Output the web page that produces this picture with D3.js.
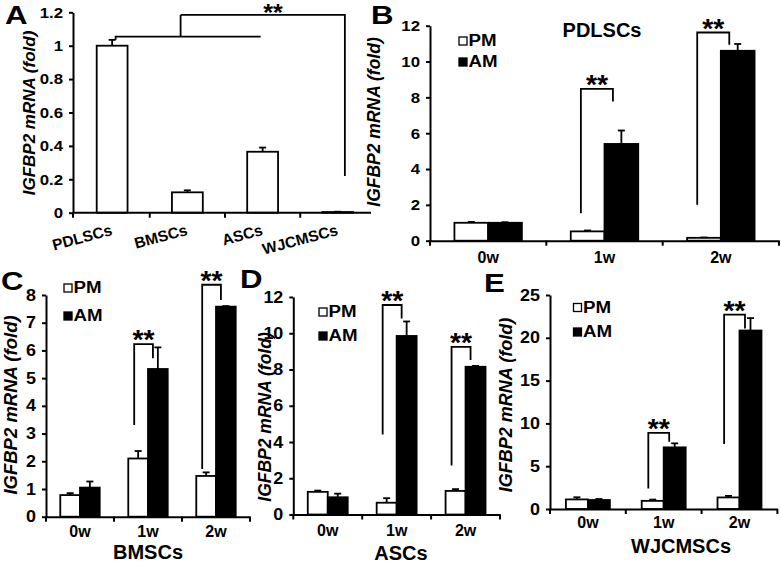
<!DOCTYPE html>
<html><head><meta charset="utf-8">
<script src="https://cdn.jsdelivr.net/npm/d3@7"></script>
<style>body{margin:0;background:#fff}</style>
</head><body><svg id="c" width="781" height="563"></svg>
<script>
// ---------- DATA ----------
const aCategories = ["PDLSCs", "BMSCs", "ASCs", "WJCMSCs"];
const aValues = [1.0, 0.122, 0.365, 0.004];
const aErrors = [0.035, 0.012, 0.025, 0.002];
const aTicks = [0, 0.2, 0.4, 0.6, 0.8, 1, 1.2];

const weeks = ["0w", "1w", "2w"];
const seriesNames = ["PM", "AM"];

const pdlPM = [1.0, 0.52, 0.16];
const pdlPMErr = [0.05, 0.05, 0.02];
const pdlAM = [1.0, 5.4, 10.6];
const pdlAMErr = [0.03, 0.75, 0.38];
const pdlTicks = [0, 2, 4, 6, 8, 10, 12];

const bmPM = [0.78, 2.1, 1.47];
const bmPMErr = [0.07, 0.27, 0.13];
const bmAM = [1.05, 5.33, 7.58];
const bmAMErr = [0.22, 0.78, 0.02];
const bmTicks = [0, 1, 2, 3, 4, 5, 6, 7, 8];

const asPM = [1.25, 0.65, 1.3];
const asPMErr = [0.07, 0.25, 0.1];
const asAM = [0.95, 9.85, 8.15];
const asAMErr = [0.2, 0.8, 0.05];
const asTicks = [0, 2, 4, 6, 8, 10, 12];

const wjPM = [1.12, 0.95, 1.35];
const wjPMErr = [0.25, 0.15, 0.18];
const wjAM = [1.05, 7.2, 20.85];
const wjAMErr = [0.12, 0.47, 1.45];
const wjTicks = [0, 5, 10, 15, 20, 25];

// significance brackets: [week, leftLegBottom, top, rightLegBottom]
const pdlSig = [["1w", 1.53, 8.47, 7.77], ["2w", 2.0, 11.62, 10.93]];
const bmSig = [["1w", 3.31, 6.23, 5.72], ["2w", 1.72, 8.37, 7.82]];
const asSig = [["1w", 4.41, 11.56, 10.82], ["2w", 2.71, 9.25, 8.52]];
const wjSig = [["1w", 2.4, 8.9, 7.86], ["2w", 7.6, 22.7, 21.1]];
// panel A bracket levels
const aSigLow = 1.054, aSigHigh = 1.184, aSigRight = 0.22;

// ---------- DRAWING ----------
const FONT = '"Liberation Sans", Arial, Helvetica, sans-serif';
const svg = d3.select("#c");
const LW = 1.8;
const TSX = 1.12; // horizontal stretch of tick labels

function styleText(sel, fs) {
  sel.attr("font-family", FONT).attr("font-weight", "bold").attr("font-size", fs).attr("fill", "#000");
}

function hText(x, y, str, fs, anchor, sx) {
  return svg.append("text").attr("transform", `translate(${x},${y}) scale(${sx || 1},1)`)
    .attr("text-anchor", anchor || "start").call(styleText, fs).text(str);
}

function drawYAxis(y, xPos, ticks, fs) {
  const g = svg.append("g").attr("transform", `translate(${xPos},0)`);
  g.call(d3.axisLeft(y).tickValues(ticks).tickSize(4).tickSizeOuter(0).tickPadding(6).tickFormat(d3.format("~g")));
  g.select(".domain").attr("stroke-width", 2).attr("stroke", "#000");
  g.selectAll(".tick line").attr("stroke-width", 2).attr("stroke", "#000");
  styleText(g.selectAll(".tick text"), fs);
  g.selectAll(".tick text").each(function () {
    const t = d3.select(this); const x = +t.attr("x");
    t.attr("x", 0).attr("transform", `translate(${x},0) scale(${TSX},1)`);
  });
  return g;
}

function drawXAxis(x, yPos, fs, pad) {
  const g = svg.append("g").attr("transform", `translate(0,${yPos})`);
  g.call(d3.axisBottom(x).tickSize(0).tickSizeOuter(0).tickPadding(pad));
  g.select(".domain").attr("stroke-width", 2).attr("stroke", "#000");
  styleText(g.selectAll(".tick text"), fs);
  const bounds = x.domain().map(c => x(c)).concat([x.range()[1]]);
  g.selectAll("line.bt").data(bounds).join("line").attr("class", "bt")
    .attr("x1", d => d).attr("x2", d => d).attr("y1", 0).attr("y2", 5)
    .attr("stroke", "#000").attr("stroke-width", 2);
  return g;
}

function yLabel(xb, yc, fs) {
  svg.append("text").attr("transform", `translate(${xb},${yc}) rotate(-90)`)
    .attr("text-anchor", "middle").attr("font-style", "italic")
    .call(styleText, fs).text("IGFBP2 mRNA (fold)");
}

function panelLetter(t, x, y) {
  hText(x, y, t, 26, "start", 1.2);
}

function errBar(cx, yTop, yErr) {
  svg.append("line").attr("x1", cx).attr("x2", cx).attr("y1", yTop).attr("y2", yErr).attr("stroke", "#000").attr("stroke-width", LW);
  svg.append("line").attr("x1", cx - 3.5).attr("x2", cx + 3.5).attr("y1", yErr).attr("y2", yErr).attr("stroke", "#000").attr("stroke-width", LW);
}

function stars(cx, baseY, fs) {
  hText(cx, baseY, "**", fs || 27, "middle", 1.05);
}

function groupedPanel(cfg) {
  const x = d3.scaleBand().domain(weeks).range(cfg.xr).padding(0);
  const y = d3.scaleLinear().domain([0, d3.max(cfg.ticks)]).range(cfg.yr);
  const bw = x.bandwidth() * 0.29;
  const y0 = y(0);
  const series = [
    { vals: cfg.pm, errs: cfg.pmErr, fill: "#fff", off: -1 },
    { vals: cfg.am, errs: cfg.amErr, fill: "#000", off: 0 }
  ];
  series.forEach(s => {
    weeks.forEach((w, i) => {
      const bx = x(w) + x.bandwidth() / 2 + s.off * bw;
      errBar(bx + bw / 2, y(s.vals[i]), y(s.vals[i] + s.errs[i]));
      svg.append("rect").attr("x", bx).attr("width", bw)
        .attr("y", y(s.vals[i])).attr("height", y0 - y(s.vals[i]))
        .attr("fill", s.fill).attr("stroke", "#000").attr("stroke-width", LW);
    });
  });
  drawXAxis(x, y0, 16, cfg.xpad);
  drawYAxis(y, cfg.xr[0], cfg.ticks, cfg.tickFs);
  // brackets
  cfg.sig.forEach(([w, lb, top, rb]) => {
    const c = x(w) + x.bandwidth() / 2;
    const lx = c - bw + bw * 0.3, rx = c + bw * 0.25;
    svg.append("path").attr("d", `M${lx},${y(lb)}V${y(top)}H${rx}V${y(rb)}`)
      .attr("fill", "none").attr("stroke", "#000").attr("stroke-width", LW);
    stars((lx + rx) / 2, y(top) + 5);
  });
  // legend
  const lg = cfg.legend;
  seriesNames.forEach((n, i) => {
    const by = lg.y[i];
    svg.append("rect").attr("x", lg.x).attr("y", by - 9).attr("width", 8).attr("height", 8)
      .attr("fill", i === 0 ? "#fff" : "#000").attr("stroke", "#000").attr("stroke-width", 1.3);
    hText(lg.x + 9.5, by, n, 17, "start", 1.1);
  });
  if (cfg.title) hText(cfg.title.x, cfg.title.y, cfg.title.t, 20, "middle", 1);
  yLabel(cfg.yl[0], cfg.yl[1], cfg.yl[2]);
}

// ----- Panel A -----
(function () {
  const x = d3.scaleBand().domain(aCategories).range([74.5, 375.5]).padding(0);
  const y = d3.scaleLinear().domain([0, 1.2]).range([212.7, 12.3]);
  const bw = x.bandwidth() * 0.41;
  const y0 = y(0);
  aCategories.forEach((c, i) => {
    const cx = x(c) + x.bandwidth() / 2;
    errBar(cx, y(aValues[i]), y(aValues[i] + aErrors[i]));
    svg.append("rect").attr("x", cx - bw / 2).attr("width", bw)
      .attr("y", y(aValues[i])).attr("height", y0 - y(aValues[i]))
      .attr("fill", "#fff").attr("stroke", "#000").attr("stroke-width", LW);
  });
  const gx = svg.append("g").attr("transform", `translate(0,${y0})`);
  gx.call(d3.axisBottom(x).tickSize(0).tickSizeOuter(0).tickFormat(""));
  gx.select(".domain").attr("stroke-width", 2).attr("d", `M73,0H371`);
  const bounds = aCategories.slice(1).map(c => x(c)).concat([73]);
  gx.selectAll("line.bt").data(bounds).join("line").attr("x1", d => d).attr("x2", d => d)
    .attr("y1", 0).attr("y2", 5).attr("stroke", "#000").attr("stroke-width", 2);
  aCategories.forEach(c => {
    const cx = x(c) + x.bandwidth() / 2;
    svg.append("text").attr("transform", `translate(${cx + 1},${y0 + 22}) rotate(-15)`)
      .attr("text-anchor", "end").call(styleText, 15.5).text(c);
  });
  drawYAxis(y, 73, aTicks, 15);
  // bracket
  const cP = x("PDLSCs") + x.bandwidth() / 2, cA = x("ASCs") + x.bandwidth() / 2, cW = x("WJCMSCs") + x.bandwidth() / 2;
  const lx = cP + 3.5, rx = cA - 2, mx = cP + (cA - cP) * 0.455, wx = cW + 7;
  svg.append("path").attr("d", `M${lx},${y(aSigLow) + 3}V${y(aSigLow)}H${rx}`)
    .attr("fill", "none").attr("stroke", "#000").attr("stroke-width", LW);
  svg.append("path").attr("d", `M${mx},${y(aSigHigh)}V${y(aSigLow)}M${mx},${y(aSigHigh)}H${wx}V${y(aSigRight)}`)
    .attr("fill", "none").attr("stroke", "#000").attr("stroke-width", LW);
  stars(273, y(aSigHigh) + 6.5, 24);
  yLabel(35, 113, 17);
})();

// ----- Panel B -----
groupedPanel({ xr: [430, 779], yr: [240.7, 25.7], ticks: pdlTicks, pm: pdlPM, pmErr: pdlPMErr, am: pdlAM, amErr: pdlAMErr,
  sig: pdlSig, xpad: 11, tickFs: 15, legend: { x: 459, y: [46, 67] }, title: { t: "PDLSCs", x: 602, y: 37 }, yl: [380, 122, 17.5] });
// ----- Panel C -----
groupedPanel({ xr: [46, 250], yr: [516.7, 295], ticks: bmTicks, pm: bmPM, pmErr: bmPMErr, am: bmAM, amErr: bmAMErr,
  sig: bmSig, xpad: 9, tickFs: 16, legend: { x: 64, y: [293, 321] }, yl: [17, 405, 18.5] });
// ----- Panel D -----
groupedPanel({ xr: [293.3, 500], yr: [514.5, 297], ticks: asTicks, pm: asPM, pmErr: asPMErr, am: asAM, amErr: asAMErr,
  sig: asSig, xpad: 10, tickFs: 16, legend: { x: 319, y: [317, 341] }, yl: [271, 417, 17.5] });
// ----- Panel E -----
groupedPanel({ xr: [550, 777.4], yr: [509, 295], ticks: wjTicks, pm: wjPM, pmErr: wjPMErr, am: wjAM, amErr: wjAMErr,
  sig: wjSig, xpad: 8, tickFs: 16, legend: { x: 573.5, y: [312.5, 337] }, yl: [512, 405, 18] });

// axis titles under panels
[["BMSCs", 148, 559], ["ASCs", 401, 560], ["WJCMSCs", 681, 553]].forEach(([t, x, y]) => hText(x, y, t, 20, "middle", 1));

panelLetter("A", 5, 24);
panelLetter("B", 371, 24);
panelLetter("C", 1, 290);
panelLetter("D", 240, 288);
panelLetter("E", 484, 292);
</script>
</body></html>
